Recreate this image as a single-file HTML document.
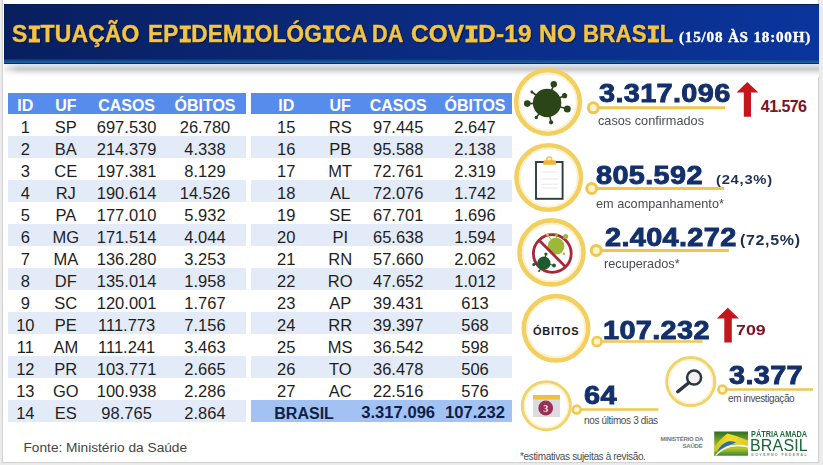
<!DOCTYPE html>
<html><head><meta charset="utf-8">
<style>
*{margin:0;padding:0;box-sizing:border-box}
html,body{width:823px;height:465px;overflow:hidden;background:#ececec;font-family:"Liberation Sans",sans-serif}
.a{position:absolute;white-space:nowrap;line-height:1}
#panel{position:absolute;left:2px;top:-1px;width:817px;height:464px;background:#fff;border:1px solid #d2d2d2;box-shadow:0 0 1px #ddd}
#hdr{position:absolute;left:4px;top:4px;width:815px;height:59.6px;
 background:linear-gradient(90deg,#081f5f 0%,#0a2672 30%,#0a2d86 60%,#0a359c 100%)}
#hdr .tl{position:absolute;left:0;right:0;top:0;height:1px;background:#061a4e}
#hdr .band{position:absolute;left:0;right:0;top:54.5px;height:4.6px;background:linear-gradient(180deg,#0c2f78 0%,#165396 55%,#1c64a6 100%)}
#hdr .bl{position:absolute;left:0;right:0;top:59.1px;height:0.8px;background:#0b2a58}
#shd{position:absolute;left:4px;top:63.6px;width:815px;height:13px;
 background:linear-gradient(180deg,#dbe8f4 0px,#d6dde6 2px,#cdcccc 4.5px,#d2d1d0 6px,#e6e6e6 8px,#f6f6f6 10.5px,#fff 13px);
 -webkit-mask-image:linear-gradient(90deg,rgba(0,0,0,.3) 0px,#000 14px)}
.title{transform-origin:0 0;top:22.8px;font-size:23px;font-weight:bold;color:#f3c445;-webkit-text-stroke:0.45px #f3c445;letter-spacing:0.16px;text-shadow:0 0 1px #000,1px 1px 1px rgba(0,0,0,.6)}
.mi{font-family:'Liberation Mono',monospace;-webkit-text-stroke:1px #f3c445;letter-spacing:-0.6px}
.date{left:678.8px;top:30px;font-family:'Liberation Serif',serif;font-size:14.6px;font-weight:bold;color:#fff;letter-spacing:0.75px;-webkit-text-stroke:0.35px #fff;transform-origin:0 0;transform:scaleX(1.04)}
.bg{position:absolute}
.th{background:#588cec}
.alt{background:#e4ebf8}
.tot{background:#a3c2f4}
.c{position:absolute;text-align:center;white-space:nowrap;line-height:1}
.hd{color:#fff;font-weight:bold;font-size:16px}
.td{font-size:16.5px;color:#1e1e1e}
.tt{color:#0f1f48;font-weight:bold;font-size:16px}
.tn{font-size:16.6px}
.fonte{left:23.5px;top:441px;font-size:13.7px;color:#444}
.num{font-size:25px;font-weight:bold;color:#14306c;-webkit-text-stroke:0.9px #14306c;letter-spacing:0.3px;transform-origin:0 0;transform:scaleX(1.155)}
.red{font-weight:bold;color:#7e1223}
.pct{font-size:12px;font-weight:bold;color:#1f2f52;letter-spacing:0.6px;transform-origin:0 0;transform:scaleX(1.23)}
.lbl{color:#4a4d50}
.lb{font-size:13px;transform-origin:0 0;transform:scaleX(0.978)}
.obt{left:533px;top:325.5px;font-size:11px;font-weight:bold;color:#1a1a1a;letter-spacing:0.7px}
.ms{font-size:6px;font-weight:bold;color:#767676;line-height:7px;letter-spacing:-0.2px}
.pa{left:751px;top:429.8px;font-size:8.3px;font-weight:bold;color:#1e6a3c;transform-origin:0 0;transform:scaleX(0.885)}
.br{left:749.8px;top:436.5px;font-size:16.3px;color:#1d6438;letter-spacing:0.2px;transform-origin:0 0;transform:scaleX(0.98)}
.gf{left:751px;top:453.6px;font-size:3.5px;font-weight:bold;color:#7d8a80;letter-spacing:1.45px}

</style></head><body>
<div id="panel"></div>
<div id="hdr"><div class="tl"></div><div class="band"></div><div class="bl"></div></div>
<div id="shd"></div>
<div class="a title" style="left:12.4px;transform:scaleX(0.996)">S<span class="mi">I</span>TUAÇÃO</div>
<div class="a title" style="left:147.8px;transform:scaleX(0.98)">EP<span class="mi">I</span>DEM<span class="mi">I</span>OLÓG<span class="mi">I</span>CA</div>
<div class="a title" style="left:371.6px;transform:scaleX(0.94)">DA</div>
<div class="a title" style="left:410.7px;transform:scaleX(1.059)">COV<span class="mi">I</span>D-19</div>
<div class="a title" style="left:538.8px;transform:scaleX(1.07)">NO</div>
<div class="a title" style="left:582.8px;transform:scaleX(0.97)">BRAS<span class="mi">I</span>L</div>
<div class="a date">(15/08 ÀS 18:00H)</div>
<div class="bg th" style="left:8px;top:93.3px;width:237.5px;height:21.1px"></div>
<div class="bg alt" style="left:8px;top:136.4px;width:237.5px;height:22px"></div>
<div class="bg alt" style="left:8px;top:180.4px;width:237.5px;height:22px"></div>
<div class="bg alt" style="left:8px;top:224.4px;width:237.5px;height:22px"></div>
<div class="bg alt" style="left:8px;top:268.4px;width:237.5px;height:22px"></div>
<div class="bg alt" style="left:8px;top:312.4px;width:237.5px;height:22px"></div>
<div class="bg alt" style="left:8px;top:356.4px;width:237.5px;height:22px"></div>
<div class="bg alt" style="left:8px;top:400.4px;width:237.5px;height:22px"></div>
<div class="c hd" style="left:-19.7px;top:97.6px;width:90px">ID</div>
<div class="c hd" style="left:20.8px;top:97.6px;width:90px">UF</div>
<div class="c hd" style="left:81.6px;top:97.6px;width:90px">CASOS</div>
<div class="c hd" style="left:160.0px;top:97.6px;width:90px">ÓBITOS</div>
<div class="c td" style="left:-19.7px;top:119.1px;width:90px">1</div>
<div class="c td" style="left:20.8px;top:119.1px;width:90px">SP</div>
<div class="c td" style="left:81.6px;top:119.1px;width:90px">697.530</div>
<div class="c td" style="left:160.0px;top:119.1px;width:90px">26.780</div>
<div class="c td" style="left:-19.7px;top:141.1px;width:90px">2</div>
<div class="c td" style="left:20.8px;top:141.1px;width:90px">BA</div>
<div class="c td" style="left:81.6px;top:141.1px;width:90px">214.379</div>
<div class="c td" style="left:160.0px;top:141.1px;width:90px">4.338</div>
<div class="c td" style="left:-19.7px;top:163.1px;width:90px">3</div>
<div class="c td" style="left:20.8px;top:163.1px;width:90px">CE</div>
<div class="c td" style="left:81.6px;top:163.1px;width:90px">197.381</div>
<div class="c td" style="left:160.0px;top:163.1px;width:90px">8.129</div>
<div class="c td" style="left:-19.7px;top:185.1px;width:90px">4</div>
<div class="c td" style="left:20.8px;top:185.1px;width:90px">RJ</div>
<div class="c td" style="left:81.6px;top:185.1px;width:90px">190.614</div>
<div class="c td" style="left:160.0px;top:185.1px;width:90px">14.526</div>
<div class="c td" style="left:-19.7px;top:207.1px;width:90px">5</div>
<div class="c td" style="left:20.8px;top:207.1px;width:90px">PA</div>
<div class="c td" style="left:81.6px;top:207.1px;width:90px">177.010</div>
<div class="c td" style="left:160.0px;top:207.1px;width:90px">5.932</div>
<div class="c td" style="left:-19.7px;top:229.1px;width:90px">6</div>
<div class="c td" style="left:20.8px;top:229.1px;width:90px">MG</div>
<div class="c td" style="left:81.6px;top:229.1px;width:90px">171.514</div>
<div class="c td" style="left:160.0px;top:229.1px;width:90px">4.044</div>
<div class="c td" style="left:-19.7px;top:251.1px;width:90px">7</div>
<div class="c td" style="left:20.8px;top:251.1px;width:90px">MA</div>
<div class="c td" style="left:81.6px;top:251.1px;width:90px">136.280</div>
<div class="c td" style="left:160.0px;top:251.1px;width:90px">3.253</div>
<div class="c td" style="left:-19.7px;top:273.1px;width:90px">8</div>
<div class="c td" style="left:20.8px;top:273.1px;width:90px">DF</div>
<div class="c td" style="left:81.6px;top:273.1px;width:90px">135.014</div>
<div class="c td" style="left:160.0px;top:273.1px;width:90px">1.958</div>
<div class="c td" style="left:-19.7px;top:295.1px;width:90px">9</div>
<div class="c td" style="left:20.8px;top:295.1px;width:90px">SC</div>
<div class="c td" style="left:81.6px;top:295.1px;width:90px">120.001</div>
<div class="c td" style="left:160.0px;top:295.1px;width:90px">1.767</div>
<div class="c td" style="left:-19.7px;top:317.1px;width:90px">10</div>
<div class="c td" style="left:20.8px;top:317.1px;width:90px">PE</div>
<div class="c td" style="left:81.6px;top:317.1px;width:90px">111.773</div>
<div class="c td" style="left:160.0px;top:317.1px;width:90px">7.156</div>
<div class="c td" style="left:-19.7px;top:339.1px;width:90px">11</div>
<div class="c td" style="left:20.8px;top:339.1px;width:90px">AM</div>
<div class="c td" style="left:81.6px;top:339.1px;width:90px">111.241</div>
<div class="c td" style="left:160.0px;top:339.1px;width:90px">3.463</div>
<div class="c td" style="left:-19.7px;top:361.1px;width:90px">12</div>
<div class="c td" style="left:20.8px;top:361.1px;width:90px">PR</div>
<div class="c td" style="left:81.6px;top:361.1px;width:90px">103.771</div>
<div class="c td" style="left:160.0px;top:361.1px;width:90px">2.665</div>
<div class="c td" style="left:-19.7px;top:383.1px;width:90px">13</div>
<div class="c td" style="left:20.8px;top:383.1px;width:90px">GO</div>
<div class="c td" style="left:81.6px;top:383.1px;width:90px">100.938</div>
<div class="c td" style="left:160.0px;top:383.1px;width:90px">2.286</div>
<div class="c td" style="left:-19.7px;top:405.1px;width:90px">14</div>
<div class="c td" style="left:20.8px;top:405.1px;width:90px">ES</div>
<div class="c td" style="left:81.6px;top:405.1px;width:90px">98.765</div>
<div class="c td" style="left:160.0px;top:405.1px;width:90px">2.864</div>
<div class="bg th" style="left:250.5px;top:93.3px;width:261px;height:21.1px"></div>
<div class="bg alt" style="left:250.5px;top:136.4px;width:261px;height:22px"></div>
<div class="bg alt" style="left:250.5px;top:180.4px;width:261px;height:22px"></div>
<div class="bg alt" style="left:250.5px;top:224.4px;width:261px;height:22px"></div>
<div class="bg alt" style="left:250.5px;top:268.4px;width:261px;height:22px"></div>
<div class="bg alt" style="left:250.5px;top:312.4px;width:261px;height:22px"></div>
<div class="bg alt" style="left:250.5px;top:356.4px;width:261px;height:22px"></div>
<div class="bg tot" style="left:250.5px;top:400.4px;width:261px;height:22px"></div>
<div class="c hd" style="left:241.3px;top:97.6px;width:90px">ID</div>
<div class="c hd" style="left:295.2px;top:97.6px;width:90px">UF</div>
<div class="c hd" style="left:353.2px;top:97.6px;width:90px">CASOS</div>
<div class="c hd" style="left:430.0px;top:97.6px;width:90px">ÓBITOS</div>
<div class="c td" style="left:241.3px;top:119.1px;width:90px">15</div>
<div class="c td" style="left:295.2px;top:119.1px;width:90px">RS</div>
<div class="c td" style="left:353.2px;top:119.1px;width:90px">97.445</div>
<div class="c td" style="left:430.0px;top:119.1px;width:90px">2.647</div>
<div class="c td" style="left:241.3px;top:141.1px;width:90px">16</div>
<div class="c td" style="left:295.2px;top:141.1px;width:90px">PB</div>
<div class="c td" style="left:353.2px;top:141.1px;width:90px">95.588</div>
<div class="c td" style="left:430.0px;top:141.1px;width:90px">2.138</div>
<div class="c td" style="left:241.3px;top:163.1px;width:90px">17</div>
<div class="c td" style="left:295.2px;top:163.1px;width:90px">MT</div>
<div class="c td" style="left:353.2px;top:163.1px;width:90px">72.761</div>
<div class="c td" style="left:430.0px;top:163.1px;width:90px">2.319</div>
<div class="c td" style="left:241.3px;top:185.1px;width:90px">18</div>
<div class="c td" style="left:295.2px;top:185.1px;width:90px">AL</div>
<div class="c td" style="left:353.2px;top:185.1px;width:90px">72.076</div>
<div class="c td" style="left:430.0px;top:185.1px;width:90px">1.742</div>
<div class="c td" style="left:241.3px;top:207.1px;width:90px">19</div>
<div class="c td" style="left:295.2px;top:207.1px;width:90px">SE</div>
<div class="c td" style="left:353.2px;top:207.1px;width:90px">67.701</div>
<div class="c td" style="left:430.0px;top:207.1px;width:90px">1.696</div>
<div class="c td" style="left:241.3px;top:229.1px;width:90px">20</div>
<div class="c td" style="left:295.2px;top:229.1px;width:90px">PI</div>
<div class="c td" style="left:353.2px;top:229.1px;width:90px">65.638</div>
<div class="c td" style="left:430.0px;top:229.1px;width:90px">1.594</div>
<div class="c td" style="left:241.3px;top:251.1px;width:90px">21</div>
<div class="c td" style="left:295.2px;top:251.1px;width:90px">RN</div>
<div class="c td" style="left:353.2px;top:251.1px;width:90px">57.660</div>
<div class="c td" style="left:430.0px;top:251.1px;width:90px">2.062</div>
<div class="c td" style="left:241.3px;top:273.1px;width:90px">22</div>
<div class="c td" style="left:295.2px;top:273.1px;width:90px">RO</div>
<div class="c td" style="left:353.2px;top:273.1px;width:90px">47.652</div>
<div class="c td" style="left:430.0px;top:273.1px;width:90px">1.012</div>
<div class="c td" style="left:241.3px;top:295.1px;width:90px">23</div>
<div class="c td" style="left:295.2px;top:295.1px;width:90px">AP</div>
<div class="c td" style="left:353.2px;top:295.1px;width:90px">39.431</div>
<div class="c td" style="left:430.0px;top:295.1px;width:90px">613</div>
<div class="c td" style="left:241.3px;top:317.1px;width:90px">24</div>
<div class="c td" style="left:295.2px;top:317.1px;width:90px">RR</div>
<div class="c td" style="left:353.2px;top:317.1px;width:90px">39.397</div>
<div class="c td" style="left:430.0px;top:317.1px;width:90px">568</div>
<div class="c td" style="left:241.3px;top:339.1px;width:90px">25</div>
<div class="c td" style="left:295.2px;top:339.1px;width:90px">MS</div>
<div class="c td" style="left:353.2px;top:339.1px;width:90px">36.542</div>
<div class="c td" style="left:430.0px;top:339.1px;width:90px">598</div>
<div class="c td" style="left:241.3px;top:361.1px;width:90px">26</div>
<div class="c td" style="left:295.2px;top:361.1px;width:90px">TO</div>
<div class="c td" style="left:353.2px;top:361.1px;width:90px">36.478</div>
<div class="c td" style="left:430.0px;top:361.1px;width:90px">506</div>
<div class="c td" style="left:241.3px;top:383.1px;width:90px">27</div>
<div class="c td" style="left:295.2px;top:383.1px;width:90px">AC</div>
<div class="c td" style="left:353.2px;top:383.1px;width:90px">22.516</div>
<div class="c td" style="left:430.0px;top:383.1px;width:90px">576</div>
<div class="c tt" style="left:274.3px;top:405.5px;text-align:left">BRASIL</div>
<div class="c tt tn" style="left:353.2px;top:405.1px;width:90px">3.317.096</div>
<div class="c tt tn" style="left:430.0px;top:405.1px;width:90px">107.232</div>
<div class="a fonte">Fonte: Ministério da Saúde</div>
<svg class="gfx" width="823" height="465" viewBox="0 0 823 465" style="position:absolute;left:0;top:0">
<defs>
<linearGradient id="lg1" x1="0" y1="0" x2="0" y2="1"><stop offset="0" stop-color="#f3d75a"/><stop offset="1" stop-color="#e9a91c"/></linearGradient>
</defs>
<g fill="none">
<!-- big rings -->
<circle cx="548" cy="102" r="31.8" stroke="#f2cf5e" stroke-width="4.6"/>
<circle cx="548" cy="102" r="28.6" stroke="#fbf0c6" stroke-width="1.6"/>
<circle cx="548.7" cy="177.5" r="32.2" stroke="#f2cf5e" stroke-width="4.6"/>
<circle cx="548.7" cy="177.5" r="29" stroke="#fbf0c6" stroke-width="1.6"/>
<circle cx="551.5" cy="252.4" r="32" stroke="#f2cf5e" stroke-width="4.6"/>
<circle cx="551.5" cy="252.4" r="28.8" stroke="#fbf0c6" stroke-width="1.6"/>
<circle cx="556" cy="328.3" r="32.2" stroke="#f2cf5e" stroke-width="4.6"/>
<circle cx="556" cy="328.3" r="29" stroke="#fbf0c6" stroke-width="1.6"/>
<circle cx="546.3" cy="405.8" r="24" stroke="#f2d26a" stroke-width="3"/>
<circle cx="546.3" cy="405.8" r="21.8" stroke="#fcf2cc" stroke-width="1.4"/>
<circle cx="690.7" cy="381.6" r="24" stroke="#f2d26a" stroke-width="3"/>
<circle cx="690.7" cy="381.6" r="21.8" stroke="#fcf2cc" stroke-width="1.4"/>
</g>
<!-- connectors -->
<g stroke="#efc750" fill="#fdf3c8">
<line x1="599" y1="107.7" x2="725" y2="107.7" stroke-width="3"/>
<circle cx="593.3" cy="107.8" r="5" stroke-width="3"/>
<line x1="597" y1="188.5" x2="724" y2="188.5" stroke-width="3"/>
<circle cx="591.7" cy="188.5" r="5" stroke-width="3"/>
<line x1="601" y1="250.4" x2="729" y2="250.4" stroke-width="3"/>
<circle cx="596.2" cy="250.4" r="5" stroke-width="3"/>
<line x1="601" y1="341.6" x2="702.5" y2="341.6" stroke-width="2.5"/>
<circle cx="597" cy="341.6" r="4.5" stroke-width="2.5"/>
<line x1="580" y1="409.6" x2="658.4" y2="409.6" stroke-width="2.5"/>
<circle cx="576.7" cy="409.6" r="4" stroke-width="2.5"/>
<line x1="726" y1="389.5" x2="813" y2="389.5" stroke-width="2.5"/>
<circle cx="722.4" cy="389.5" r="4" stroke-width="2.5"/>
</g>
<!-- virus 1 -->
<g fill="#2b4519" stroke="#2b4519" stroke-width="1.6">
<line x1="547.1" y1="103" x2="553.8" y2="84.2"/>
<line x1="547.1" y1="103" x2="564.6" y2="95.7"/>
<line x1="547.1" y1="103" x2="567.3" y2="109.1"/>
<line x1="547.1" y1="103" x2="551.1" y2="122.3"/>
<line x1="547.1" y1="103" x2="536.3" y2="117.5"/>
<line x1="547.1" y1="103" x2="527.3" y2="103.6"/>
<line x1="547.1" y1="103" x2="531.8" y2="92"/>
<circle cx="547.1" cy="103" r="14.2" stroke="none"/>
<circle cx="553.8" cy="84.2" r="3.2" stroke="none"/>
<circle cx="564.6" cy="95.7" r="2.6" stroke="none"/>
<circle cx="567.3" cy="109.1" r="3.5" stroke="none"/>
<circle cx="551.1" cy="122.3" r="2.1" stroke="none"/>
<circle cx="536.3" cy="117.5" r="1.7" stroke="none"/>
<circle cx="527.3" cy="103.6" r="3.3" stroke="none"/>
<circle cx="531.8" cy="92" r="1.4" stroke="none"/>
</g>
<!-- clipboard -->
<rect x="536" y="162" width="26.6" height="36.8" fill="#fff" stroke="#2b3d3a" stroke-width="1.9"/>
<g stroke="#ecebf2" stroke-width="1.2"><line x1="541" y1="172" x2="558" y2="172"/><line x1="541" y1="179" x2="558" y2="179"/><line x1="541" y1="184.3" x2="558" y2="184.3"/><line x1="541" y1="188" x2="558" y2="188"/></g>
<circle cx="549.3" cy="159.4" r="2.5" fill="#fbeecb" stroke="#f1c95e" stroke-width="1.5"/>
<path d="M543 164.7 L543.8 160.2 L555.6 160.2 L556.4 164.7 Z" fill="#f0b53a"/>
<!-- no virus -->
<circle cx="552.3" cy="253.5" r="18.9" fill="none" stroke="#a8283a" stroke-width="2.8"/>
<g fill="#9db838" stroke="#9db838" stroke-width="1">
<line x1="556" y1="246" x2="565.7" y2="236.4"/>
<line x1="556" y1="246" x2="548" y2="235.5"/>
<line x1="556" y1="246" x2="556.5" y2="234.5"/>
<circle cx="556" cy="246.2" r="8.4" stroke="none"/>
<circle cx="565.7" cy="236.4" r="2.5" stroke="none"/>
<circle cx="563.9" cy="253.8" r="1.2" stroke="none"/>
<circle cx="556.5" cy="234.8" r="1.5" stroke="none"/>
</g>
<circle cx="547.5" cy="235" r="1.5" fill="#d6a960"/>
<line x1="538.9" y1="240.1" x2="565.7" y2="266.9" stroke="#a8283a" stroke-width="2.8"/>
<g fill="#1d5a2e" stroke="#1d5a2e" stroke-width="1.2">
<line x1="543.9" y1="263.2" x2="545.9" y2="254"/>
<line x1="543.9" y1="263.2" x2="554" y2="265.5"/>
<line x1="543.9" y1="263.2" x2="533.8" y2="264.4"/>
<line x1="543.9" y1="263.2" x2="539.2" y2="271"/>
<circle cx="543.9" cy="263.2" r="6.6" stroke="none"/>
<circle cx="545.9" cy="254" r="1.6" stroke="none"/>
<circle cx="554" cy="265.5" r="1.9" stroke="none"/>
<circle cx="533.8" cy="264.4" r="1.5" stroke="none"/>
<circle cx="539.2" cy="271" r="1.1" stroke="none"/>
</g>
<!-- calendar -->
<rect x="533" y="395" width="27" height="22" fill="#dcdce0"/>
<rect x="533" y="395" width="27" height="4.5" fill="#f0bf3c"/>
<circle cx="545.7" cy="408" r="7.4" fill="#9c2f55"/>
<text x="545.7" y="411.6" font-family="Liberation Serif" font-weight="bold" font-size="10" fill="#f6e3ea" text-anchor="middle">3</text>
<!-- magnifier -->
<circle cx="694.1" cy="377.6" r="7" fill="#f1f1f3" stroke="#2b3640" stroke-width="2.5"/>
<line x1="688.5" y1="383" x2="677.8" y2="391.6" stroke="#2b3640" stroke-width="3.4" stroke-linecap="round"/>
<!-- arrows -->
<path d="M747.3 81.9 L758.4 92.4 L751 92.4 L751 116.8 L743.8 116.8 L743.8 92.4 L736.5 92.4 Z" fill="#c4161c"/>
<path d="M727.8 307.8 L739 318.6 L731.8 318.6 L731.8 342.6 L724.3 342.6 L724.3 318.6 L716.8 318.6 Z" fill="#c4161c"/>
<!-- logo -->
<defs>
<linearGradient id="lgb" x1="0" y1="0" x2="0" y2="1"><stop offset="0" stop-color="#2d6e26"/><stop offset="0.45" stop-color="#8aa824"/><stop offset="0.7" stop-color="#b9c42a"/><stop offset="1" stop-color="#2a8a34"/></linearGradient>
<linearGradient id="lgy" x1="0" y1="0" x2="1" y2="0"><stop offset="0" stop-color="#c9c62a"/><stop offset="0.45" stop-color="#f2dc2a"/><stop offset="1" stop-color="#d8cc28"/></linearGradient>
</defs>
<rect x="714.2" y="431.5" width="33.8" height="24.2" fill="url(#lgb)"/>
<path d="M714.2 447.5 Q720 439 727.4 433.6 Q738 436 748 440.5 L748 446.5 Q738 443.5 729 443.5 Q720 446 714.2 453 Z" fill="url(#lgy)"/>
<path d="M717.6 451.2 Q721 443.5 728.5 441.3 Q733 441 736.2 442.6 Q727 445.2 717.6 451.2 Z" fill="#2c6db0"/>
<path d="M715 455.2 Q722 447.5 731 445 Q740 443.8 748 446 L748 447.6 Q739 445.8 731 447 Q722 449.5 716.5 455.6 Z" fill="#f4f6ea"/>
</svg>
<div class="a num" style="left:599px;top:81.2px">3.317.096</div>
<div class="a num" style="left:596px;top:163.2px">805.592</div>
<div class="a num" style="left:604.6px;top:224.5px">2.404.272</div>
<div class="a num" style="left:602.6px;top:317.6px">107.232</div>
<div class="a num" style="left:584.4px;top:383.2px">64</div>
<div class="a num" style="left:728.5px;top:362.8px">3.377</div>
<div class="a red" style="left:760.8px;top:98.9px;font-size:16px;letter-spacing:-0.55px">41.576</div>
<div class="a red" style="left:736px;top:321.5px;font-size:15.5px;transform-origin:0 0;transform:scaleX(1.15)">709</div>
<div class="a pct" style="left:715.8px;top:174px">(24,3%)</div>
<div class="a pct" style="left:739.5px;top:233.4px;font-size:14.7px;transform:scaleX(1.09)">(72,5%)</div>
<div class="a lbl lb" style="left:598px;top:114.2px">casos confirmados</div>
<div class="a lbl lb" style="left:596px;top:196.8px">em acompanhamento*</div>
<div class="a lbl lb" style="left:604px;top:257.2px">recuperados*</div>
<div class="a lbl" style="left:584px;top:416px;font-size:10px;letter-spacing:-0.35px">nos últimos 3 dias</div>
<div class="a lbl" style="left:728px;top:394px;font-size:10px;letter-spacing:-0.4px">em investigação</div>
<div class="a lbl" style="left:520px;top:451.5px;font-size:10px;letter-spacing:-0.35px">*estimativas sujeitas à revisão.</div>
<div class="a obt">ÓBITOS</div>
<div class="a ms" style="left:660.5px;top:436px;width:42px;text-align:right">MINISTÉRIO DA<br>SAÚDE</div>
<div class="a pa">PÁTRIA AMADA</div>
<div class="a br">BRASIL</div>
<div class="a gf">GOVERNO FEDERAL</div>

</body></html>
